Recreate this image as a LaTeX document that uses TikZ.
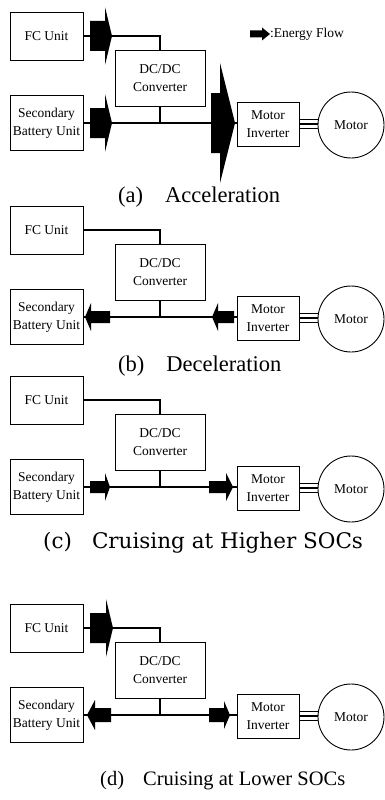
\documentclass[tikz,border=0pt]{standalone}
\usepackage{fontspec}
\setmainfont{Liberation Serif}
\newfontfamily\wideserif{DejaVu Serif}
\usetikzlibrary{calc}

\begin{document}
\begin{tikzpicture}[x=1pt,y=-1pt,
  pics/flow/.style n args={4}{code={\fill (-#1,-#2) -- (0,-#2) -- (0,-#4) -- (#3,0) -- (0,#4) -- (0,#2) -- (-#1,#2) -- cycle;}}]
\tikzstyle{box} = [draw, line width=0.9pt, inner sep=0pt, align=center, font=\fontsize{13.5}{18}\selectfont]
\tikzstyle{bus} = [line width=2.6pt]
\tikzstyle{phase} = [line width=1.6pt]
\tikzstyle{caption} = [anchor=west, inner sep=0pt]
\useasboundingbox (0,0) rectangle (385,800);

% same layout for all four modes, only the bus height moves
\foreach \p/\bus in {a/123,b/317,c/487,d/715}{
  \node [box,minimum width=73pt,minimum height=48pt] (fc\p) at (46.5,\bus-87) {FC Unit};
  \node [box,minimum width=90pt,minimum height=56pt] (dcdc\p) at (160,\bus-45) {DC/DC\\Converter};
  \node [box,minimum width=73pt,minimum height=55pt] (batt\p) at (46.5,\bus) {Secondary\\Battery Unit};
  \node [box,minimum width=62pt,minimum height=44pt] (inv\p) at (268,\bus+1) {Motor\\Inverter};
  \node [box,circle,minimum size=66pt] (motor\p) at (351,\bus+2) {Motor};
  \draw [bus] (fc\p) -- (fc\p -| dcdc\p) -- (dcdc\p);
  \draw [bus] (dcdc\p) -- (dcdc\p |- batt\p);
  \draw [bus] (batt\p.east) -- (batt\p.east -| inv\p.west);
  \foreach \d in {-4.5,0,4.5}
    \draw [phase] ($(inv\p.east)+(0,\d)$) -- ($(inv\p.east -| motor\p.west)+(0,\d)$);
}

% energy flow marks
\path (262,34) pic {flow={12}{3.5}{8}{6.5}};
\node [anchor=west, inner sep=0pt, font=\fontsize{13.5}{16}\selectfont] (key) at (270,34) {:Energy Flow};
% (a)
\path (105,36) pic {flow={15}{15}{7}{29}};
\path (105,123) pic {flow={15}{15}{7}{29}};
\path (220,123) pic {flow={9}{30}{15}{60}};
% (b)
\path (91,317) pic [xscale=-1] {flow={19}{6}{6}{14}};
\path (218,317) pic [xscale=-1] {flow={16}{6}{6}{14}};
% (c)
\path (105,487) pic {flow={15}{6}{5}{14}};
\path (226,487) pic {flow={17}{6}{7}{14}};
% (d)
\path (106,628) pic {flow={16}{15}{7}{29}};
\path (95,715) pic [xscale=-1] {flow={16}{7}{8}{15}};
\path (224,715) pic {flow={15}{7}{6}{14}};

\node [caption, font=\fontsize{22.5}{24}\selectfont] (capa) at (118,197) {(a)\hspace{22pt}Acceleration};
\node [caption, font=\fontsize{22.5}{24}\selectfont] (capb) at (118,366) {(b)\hspace{22pt}Deceleration};
\node [caption, font=\wideserif\fontsize{21.5}{24}\selectfont] (capc) at (43,543) {(c)\hspace{20pt}Cruising at Higher SOCs};
\node [caption, font=\fontsize{20.5}{24}\selectfont] (capd) at (100,781) {(d)\hspace{19pt}Cruising at Lower SOCs};
\end{tikzpicture}
\end{document}
